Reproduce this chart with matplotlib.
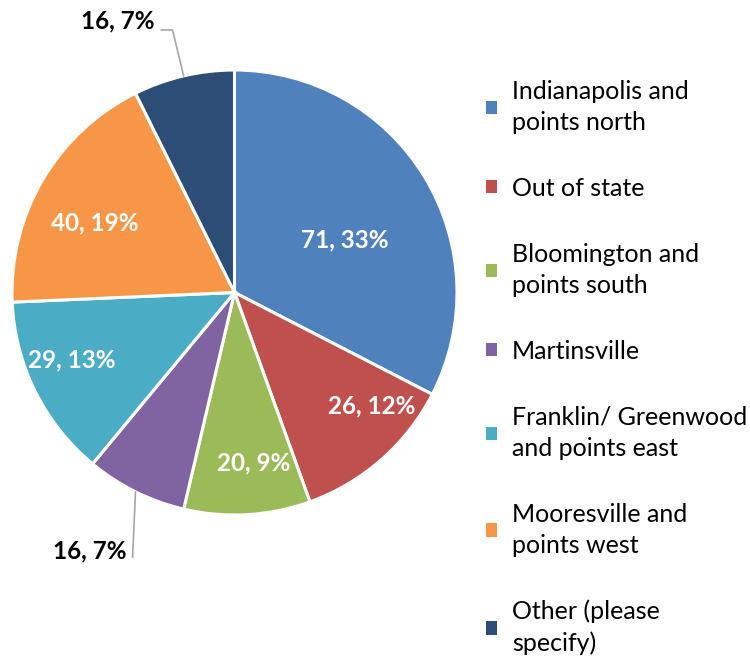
import numpy as np
import matplotlib.pyplot as plt
from matplotlib.patches import Patch

# data
categories = ["Indianapolis and\npoints north", "Out of state",
              "Bloomington and\npoints south", "Martinsville",
              "Franklin/ Greenwood\nand points east",
              "Mooresville and\npoints west", "Other (please\nspecify)"]
counts = [71, 26, 20, 16, 29, 40, 16]
pct_labels = ["33%", "12%", "9%", "7%", "13%", "19%", "7%"]

colors = ["#4F81BD", "#C0504D", "#9BBB59", "#8064A2",
          "#4BACC6", "#F79646", "#2C4D75"]

plt.rcParams['font.family'] = ['Lato', 'DejaVu Sans']

fig = plt.figure(figsize=(7.5, 6.56), dpi=100)
# pie centre ~ (234.5, 292.5) px, radius ~222.5 px
ax = fig.add_axes([12 / 750, (656 - 515) / 656, 445 / 750, 445 / 656])

wedges, _ = ax.pie(counts, colors=colors, startangle=90, counterclock=False,
                   radius=1.0, wedgeprops=dict(edgecolor="white", linewidth=2.2))
ax.set_xlim(-1, 1)
ax.set_ylim(-1, 1)
ax.axis("off")

# label radius for the inside labels (Excel "best fit" look)
label_r = [0.55, 0.80, 0.77, None, 0.79, 0.70, None]
label_dang = [-6, 9, 3, 0, -4, 4, 0]

for i, w in enumerate(wedges):
    txt = "%d, %s" % (counts[i], pct_labels[i])
    mid = np.deg2rad((w.theta1 + w.theta2) / 2 + label_dang[i])
    if label_r[i] is not None:
        ax.text(label_r[i] * np.cos(mid), label_r[i] * np.sin(mid), txt,
                ha="center", va="center", color="white",
                fontsize=17.5, fontweight="bold")
    else:
        ex, ey = np.cos(mid), np.sin(mid)
        if ey > 0:
            xs = [ex, ex - 0.05, ex - 0.10]
            ys = [ey, 1.18, 1.18]
            tx, ty = ex - 0.13, 1.22
        else:
            xs = [ex, ex - 0.013]
            ys = [ey, -1.189]
            tx, ty = ex - 0.04, -1.162
        ax.plot(xs, ys, color="#A6A6A6", lw=1.2, clip_on=False)
        ax.text(tx, ty, txt, ha="right", va="center", color="black",
                fontsize=17.5, fontweight="bold", clip_on=False)

handles = [Patch(facecolor=c, edgecolor="none") for c in colors]
leg = fig.legend(handles, categories, loc="center left",
                 bbox_to_anchor=(476 / 750, 0.44), frameon=False,
                 fontsize=18, handlelength=0.45, handleheight=0.45,
                 handletextpad=0.6, labelspacing=1.72, borderaxespad=0)
for t in leg.get_texts():
    t.set_linespacing(1.42)

plt.savefig("out.png", dpi=100)
